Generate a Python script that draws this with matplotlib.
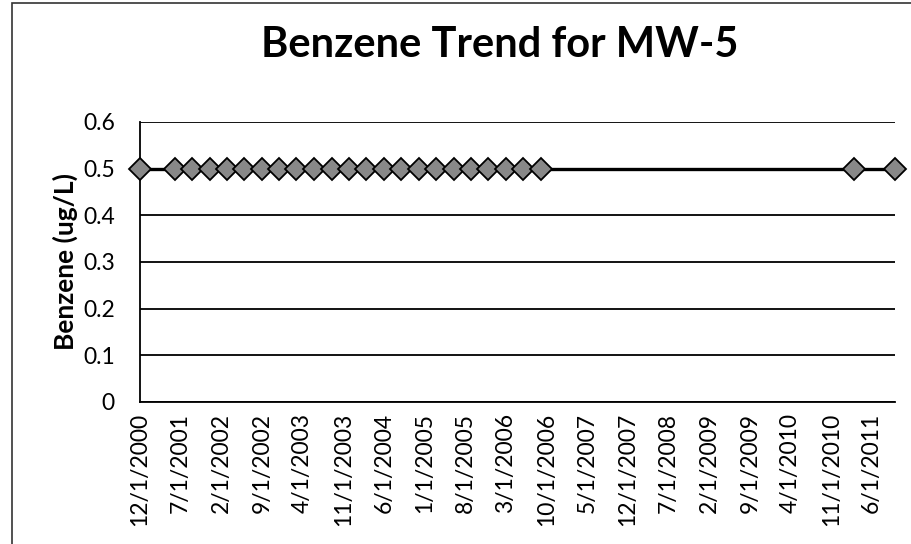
import matplotlib.pyplot as plt
import matplotlib.patches as patches
import numpy as np
from datetime import datetime

# sample dates (quarterly monitoring, then two later events)
sample_dates = [
    "12/1/2000", "6/1/2001", "9/1/2001", "12/1/2001", "3/1/2002", "6/1/2002",
    "9/1/2002", "12/1/2002", "3/1/2003", "6/1/2003", "9/1/2003", "12/1/2003",
    "3/1/2004", "6/1/2004", "9/1/2004", "12/1/2004", "3/1/2005", "6/1/2005",
    "9/1/2005", "12/1/2005", "3/1/2006", "6/1/2006", "9/1/2006",
    "3/1/2011", "10/1/2011",
]
benzene = [0.5] * len(sample_dates)

tick_labels = [
    "12/1/2000", "7/1/2001", "2/1/2002", "9/1/2002", "4/1/2003", "11/1/2003",
    "6/1/2004", "1/1/2005", "8/1/2005", "3/1/2006", "10/1/2006", "5/1/2007",
    "12/1/2007", "7/1/2008", "2/1/2009", "9/1/2009", "4/1/2010", "11/1/2010",
    "6/1/2011",
]

dates = [datetime.strptime(d, "%m/%d/%Y") for d in sample_dates]
tick_dates = [datetime.strptime(d, "%m/%d/%Y") for d in tick_labels]

plt.rcParams['font.family'] = ['Lato', 'DejaVu Sans']

fig = plt.figure(figsize=(9.11, 5.44), dpi=100)
ax = fig.add_axes([140/911, 1-402/544, (895-140)/911, (402-122)/544])

ax.plot(dates, benzene, color='black', linewidth=2.4, marker='D', markersize=11,
        markerfacecolor='#888888', markeredgecolor='black', markeredgewidth=1.3,
        zorder=3, clip_on=False)

ax.set_xlim(dates[0], dates[-1])
ax.set_ylim(0, 0.6)
ax.set_yticks(np.arange(0, 0.61, 0.1))
ax.set_yticklabels(['0', '0.1', '0.2', '0.3', '0.4', '0.5', '0.6'], fontsize=16.5)
ax.set_xticks(tick_dates)
ax.set_xticklabels(tick_labels, rotation=90, fontsize=16.5)
ax.yaxis.grid(True, color='black', linewidth=1.3)
ax.set_axisbelow(True)
for s in ['top', 'right']:
    ax.spines[s].set_visible(False)
for s in ['left', 'bottom']:
    ax.spines[s].set_linewidth(1.3)
ax.tick_params(axis='y', length=0, pad=18)
ax.tick_params(axis='x', length=0, pad=8)

ax.set_ylabel('Benzene (ug/L)', fontsize=19, fontweight='bold', labelpad=4)
fig.text(500/911, 1-45/544, 'Benzene Trend for MW-5', ha='center', va='center',
         fontsize=30, fontweight='bold')

# chart frame (right and bottom edges fall outside the picture)
fig.patches.append(patches.Rectangle((12/911, -0.05), 1.0, 1.05-3/544,
                                     transform=fig.transFigure, fill=False,
                                     edgecolor='#333333', linewidth=1.2))

fig.savefig('out.png', dpi=100)
